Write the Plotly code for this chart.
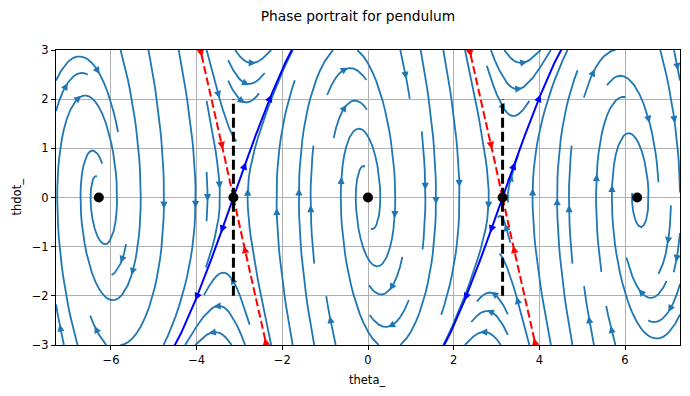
import numpy as np
import plotly.graph_objects as go

# ---------------- data ----------------
THETA_LIM = [-2 * np.pi - 1.0, 2 * np.pi + 1.0]
THDOT_LIM = [-3.0, 3.0]
GRAVITY_OVER_LENGTH = 9.81      # pendulum g/l
DAMPING = 1.5                   # viscous damping coefficient
FIELD_POINTS = 100              # samples per axis of the vector field
fixed_theta = [-2 * np.pi, -np.pi, 0.0, np.pi, 2 * np.pi]
fixed_thdot = [0.0, 0.0, 0.0, 0.0, 0.0]
saddle_theta = [-np.pi, np.pi]
segment_thdot = [-2.0, 2.0]
unstable_arrow_thdot = [0.63, 2.0]
stable_arrow_thdot = [1.07, 2.93]
x_tickvals = [-6, -4, -2, 0, 2, 4, 6]
y_tickvals = [-3, -2, -1, 0, 1, 2, 3]
TITLE = "Phase portrait for pendulum"
XLABEL = "theta_"
YLABEL = "thdot_"

# ---------------- layout constants ----------------
PAGE_OFF = 8                      # browser body margin
W, H = 682, 388
ML, MR, MT, MB = 48, 10, 42, 51
PW, PH = W - ML - MR, H - MT - MB
SX = PW / (THETA_LIM[1] - THETA_LIM[0])
SY = PH / (THDOT_LIM[1] - THDOT_LIM[0])
STREAM_COLOR = "#1f77b4"


def dynamics(th, w):
    return w, -GRAVITY_OVER_LENGTH * np.sin(th) - DAMPING * w


# ---------------- streamplot (matplotlib algorithm) ----------------
nx = ny = FIELD_POINTS
xs = np.linspace(THETA_LIM[0], THETA_LIM[1], nx)
ys = np.linspace(THDOT_LIM[0], THDOT_LIM[1], ny)
X, Y = np.meshgrid(xs, ys)
U, V = dynamics(X, Y)
dxg, dyg = xs[1] - xs[0], ys[1] - ys[0]
Ug, Vg = U / dxg, V / dyg
speed = np.sqrt((Ug / (nx - 1)) ** 2 + (Vg / (ny - 1)) ** 2)

MASK_N = 30
mask = np.zeros((MASK_N, MASK_N))
xg2m = (MASK_N - 1) / (nx - 1)
yg2m = (MASK_N - 1) / (ny - 1)


class OutOfBounds(Exception):
    pass


class Terminate(Exception):
    pass


class InvalidIndex(Exception):
    pass


st = {"traj": [], "cur": None}


def within(xi, yi):
    return 0 <= xi <= nx - 1 and 0 <= yi <= ny - 1


def interp(a, xi, yi):
    x = int(xi)
    y = int(yi)
    xn = x if x == nx - 1 else x + 1
    yn = y if y == ny - 1 else y + 1
    xt = xi - x
    yt = yi - y
    a0 = a[y, x] * (1 - xt) + a[y, xn] * xt
    a1 = a[yn, x] * (1 - xt) + a[yn, xn] * xt
    return a0 * (1 - yt) + a1 * yt


def g2m(xi, yi):
    return int(round(xi * xg2m)), int(round(yi * yg2m))


def mask_update(xm, ym):
    if st["cur"] != (xm, ym):
        if mask[ym, xm] == 0:
            st["traj"].append((ym, xm))
            mask[ym, xm] = 1
            st["cur"] = (xm, ym)
        else:
            raise InvalidIndex


def update_trajectory(xg, yg):
    if not within(xg, yg):
        raise InvalidIndex
    xm, ym = g2m(xg, yg)
    mask_update(xm, ym)


def fwd(xi, yi):
    if not within(xi, yi):
        raise OutOfBounds
    v = interp(speed, xi, yi)
    if v == 0:
        raise Terminate
    dt = 1.0 / v
    return interp(Ug, xi, yi) * dt, interp(Vg, xi, yi) * dt


def bwd(xi, yi):
    a, b = fwd(xi, yi)
    return -a, -b


def euler_step(traj, f):
    xi, yi = traj[-1]
    cx, cy = f(xi, yi)
    if cx == 0:
        dsx = np.inf
    elif cx < 0:
        dsx = xi / -cx
    else:
        dsx = (nx - 1 - xi) / cx
    if cy == 0:
        dsy = np.inf
    elif cy < 0:
        dsy = yi / -cy
    else:
        dsy = (ny - 1 - yi) / cy
    ds = min(dsx, dsy)
    traj.append((xi + cx * ds, yi + cy * ds))
    return ds, traj


def rk12(x0, y0, f, maxlength):
    maxerror = 0.003
    maxds = min(1.0 / MASK_N, 0.1)
    ds = maxds
    stotal = 0.0
    xi, yi = x0, y0
    traj = []
    while True:
        try:
            if within(xi, yi):
                traj.append((xi, yi))
            else:
                raise OutOfBounds
            k1x, k1y = f(xi, yi)
            k2x, k2y = f(xi + ds * k1x, yi + ds * k1y)
        except OutOfBounds:
            if traj:
                dse, traj = euler_step(traj, f)
                stotal += dse
            break
        except Terminate:
            break
        dx1, dy1 = ds * k1x, ds * k1y
        dx2, dy2 = ds * 0.5 * (k1x + k2x), ds * 0.5 * (k1y + k2y)
        err = np.hypot((dx2 - dx1) / (nx - 1), (dy2 - dy1) / (ny - 1))
        if err < maxerror:
            xi += dx2
            yi += dy2
            try:
                update_trajectory(xi, yi)
            except InvalidIndex:
                break
            if stotal + ds > maxlength:
                break
            stotal += ds
        if err == 0:
            ds = maxds
        else:
            ds = min(maxds, 0.85 * ds * (maxerror / err) ** 0.5)
    return stotal, traj


def integrate(x0, y0, minlength=0.1, maxlength=2.0):
    st["traj"] = []
    try:
        mask_update(*g2m(x0, y0))
    except InvalidIndex:
        return None
    stotal = 0.0
    s, t = rk12(x0, y0, bwd, maxlength)
    stotal += s
    xy = t[::-1]
    st["cur"] = g2m(x0, y0)
    s, t = rk12(x0, y0, fwd, maxlength)
    stotal += s
    xy += t[1:]
    if stotal > minlength:
        return np.array(xy)
    for c in st["traj"]:
        mask[c] = 0
    return None


def starting_points(n):
    xfirst, yfirst, xlast, ylast = 0, 1, n - 1, n - 1
    x = y = 0
    d = "right"
    for _ in range(n * n):
        yield x, y
        if d == "right":
            x += 1
            if x >= xlast:
                xlast -= 1
                d = "up"
        elif d == "up":
            y += 1
            if y >= ylast:
                ylast -= 1
                d = "left"
        elif d == "left":
            x -= 1
            if x <= xfirst:
                xfirst += 1
                d = "down"
        else:
            y -= 1
            if y <= yfirst:
                yfirst += 1
                d = "right"


trajectories = []
for xm, ym in starting_points(MASK_N):
    if mask[ym, xm] == 0:
        t = integrate(xm / xg2m, ym / yg2m)
        if t is not None:
            trajectories.append(t)


def arrow_polygon(px, py, dth, dw, length=4.8, half=2.4):
    """Triangle (data coords) centred near (px,py) pointing along (dth,dw)."""
    ex, ey = dth * SX, dw * SY           # pixel direction (y up)
    nrm = np.hypot(ex, ey)
    ex, ey = ex / nrm, ey / nrm
    qx, qy = -ey, ex
    tip = (ex * length * 0.6, ey * length * 0.6)
    b1 = (-ex * length * 0.4 + qx * half, -ey * length * 0.4 + qy * half)
    b2 = (-ex * length * 0.4 - qx * half, -ey * length * 0.4 - qy * half)
    pts = [tip, b1, b2, tip]
    return [px + p[0] / SX for p in pts], [py + p[1] / SY for p in pts]


line_x, line_y, arr_x, arr_y = [], [], [], []
for t in trajectories:
    tx = t[:, 0] * dxg + xs[0]
    ty = t[:, 1] * dyg + ys[0]
    line_x += list(tx) + [None]
    line_y += list(ty) + [None]
    s = np.cumsum(np.hypot(np.diff(tx), np.diff(ty)))
    n = int(np.searchsorted(s, s[-1] / 2.0))
    hx, hy = np.mean(tx[n:n + 2]), np.mean(ty[n:n + 2])
    ax_, ay_ = arrow_polygon(hx, hy, tx[n + 1] - tx[n], ty[n + 1] - ty[n])
    arr_x += ax_ + [None]
    arr_y += ay_ + [None]


# ---------------- saddle manifolds ----------------
def rk4_branch(p, direction, h=0.002, nmax=20000):
    pts = [p]
    th, w = p
    for _ in range(nmax):
        def f(a, b):
            u, v = dynamics(a, b)
            return direction * u, direction * v
        k1 = f(th, w)
        k2 = f(th + h / 2 * k1[0], w + h / 2 * k1[1])
        k3 = f(th + h / 2 * k2[0], w + h / 2 * k2[1])
        k4 = f(th + h * k3[0], w + h * k3[1])
        th += h / 6 * (k1[0] + 2 * k2[0] + 2 * k3[0] + k4[0])
        w += h / 6 * (k1[1] + 2 * k2[1] + 2 * k3[1] + k4[1])
        pts.append((th, w))
        if abs(w) > 3.3 or th < THETA_LIM[0] or th > THETA_LIM[1]:
            break
    return np.array(pts)


lam_u = (-DAMPING + np.sqrt(DAMPING ** 2 + 4 * GRAVITY_OVER_LENGTH)) / 2
lam_s = (-DAMPING - np.sqrt(DAMPING ** 2 + 4 * GRAVITY_OVER_LENGTH)) / 2
eps = 1e-5

man = {"u": ([], [], [], []), "s": ([], [], [], [])}
for th0 in saddle_theta:
    for key, lam, direction, levels in (("u", lam_u, 1, unstable_arrow_thdot),
                                        ("s", lam_s, -1, stable_arrow_thdot)):
        for sgn in (1, -1):
            v = np.array([1.0, lam]) / np.hypot(1.0, lam) * sgn * eps
            br = rk4_branch((th0 + v[0], v[1]), direction)
            lx, ly, ax2, ay2 = man[key]
            lx += list(br[:, 0]) + [None]
            ly += list(br[:, 1]) + [None]
            for lev in levels:
                absw = np.abs(br[:, 1])
                i = int(np.argmax(absw >= lev))
                pth, pw = br[i]
                u, vv = dynamics(pth, pw)
                px_, py_ = arrow_polygon(pth, pw, u, vv, length=5.5, half=2.8)
                ax2 += px_ + [None]
                ay2 += py_ + [None]

fig = go.Figure()
fig.add_trace(go.Scatter(x=line_x, y=line_y, mode="lines",
                         line=dict(color=STREAM_COLOR, width=1.8),
                         hoverinfo="skip"))
fig.add_trace(go.Scatter(x=arr_x, y=arr_y, mode="lines", fill="toself",
                         fillcolor=STREAM_COLOR,
                         line=dict(color=STREAM_COLOR, width=1.5),
                         hoverinfo="skip"))
lx, ly, ax2, ay2 = man["u"]
fig.add_trace(go.Scatter(x=lx, y=ly, mode="lines",
                         line=dict(color="blue", width=2), hoverinfo="skip"))
fig.add_trace(go.Scatter(x=ax2, y=ay2, mode="lines", fill="toself",
                         fillcolor="blue", line=dict(color="blue", width=1.2),
                         hoverinfo="skip"))
lx, ly, ax2, ay2 = man["s"]
fig.add_trace(go.Scatter(x=lx, y=ly, mode="lines",
                         line=dict(color="red", width=2, dash="8px,3.5px"),
                         hoverinfo="skip"))
fig.add_trace(go.Scatter(x=ax2, y=ay2, mode="lines", fill="toself",
                         fillcolor="red", line=dict(color="red", width=1.2),
                         hoverinfo="skip"))
for th0 in saddle_theta:
    fig.add_trace(go.Scatter(x=[th0, th0], y=segment_thdot, mode="lines",
                             line=dict(color="black", width=3, dash="10px,4px"),
                             hoverinfo="skip"))
fig.add_trace(go.Scatter(x=fixed_theta, y=fixed_thdot, mode="markers",
                         marker=dict(color="black", size=10),
                         hoverinfo="skip"))

axis_common = dict(showgrid=True, gridcolor="#b0b0b0", gridwidth=0.9,
                   showline=True, mirror=True, linecolor="black", linewidth=1,
                   ticks="outside", ticklen=4, tickcolor="black", tickwidth=1,
                   zeroline=False, tickfont=dict(size=11.5, color="black"))
fig.update_xaxes(range=THETA_LIM, tickvals=x_tickvals, **axis_common)
fig.update_yaxes(range=THDOT_LIM, tickvals=y_tickvals, **axis_common)
fig.update_layout(
    width=W, height=H, autosize=False,
    margin=dict(l=ML, r=MR, t=MT, b=MB),
    plot_bgcolor="white", paper_bgcolor="white", showlegend=False,
    font=dict(family="DejaVu Sans", size=11.5, color="black"),
    title=dict(text=TITLE, x=(358 - PAGE_OFF) / W, xref="container",
               xanchor="center", y=1 - (16 - PAGE_OFF) / H, yref="container",
               yanchor="middle", font=dict(size=13.8, color="black")),
    annotations=[
        dict(text=XLABEL, xref="paper", yref="paper",
             x=(367 - PAGE_OFF - ML) / PW,
             y=-(380 - PAGE_OFF - (H - MB)) / PH, showarrow=False,
             xanchor="center", yanchor="middle", font=dict(size=11.5)),
        dict(text=YLABEL, xref="paper", yref="paper",
             x=(16 - PAGE_OFF - ML) / PW, y=0.5, showarrow=False,
             textangle=-90, xanchor="center", yanchor="middle",
             font=dict(size=11.5)),
    ],
)
fig.write_html("out.html")
